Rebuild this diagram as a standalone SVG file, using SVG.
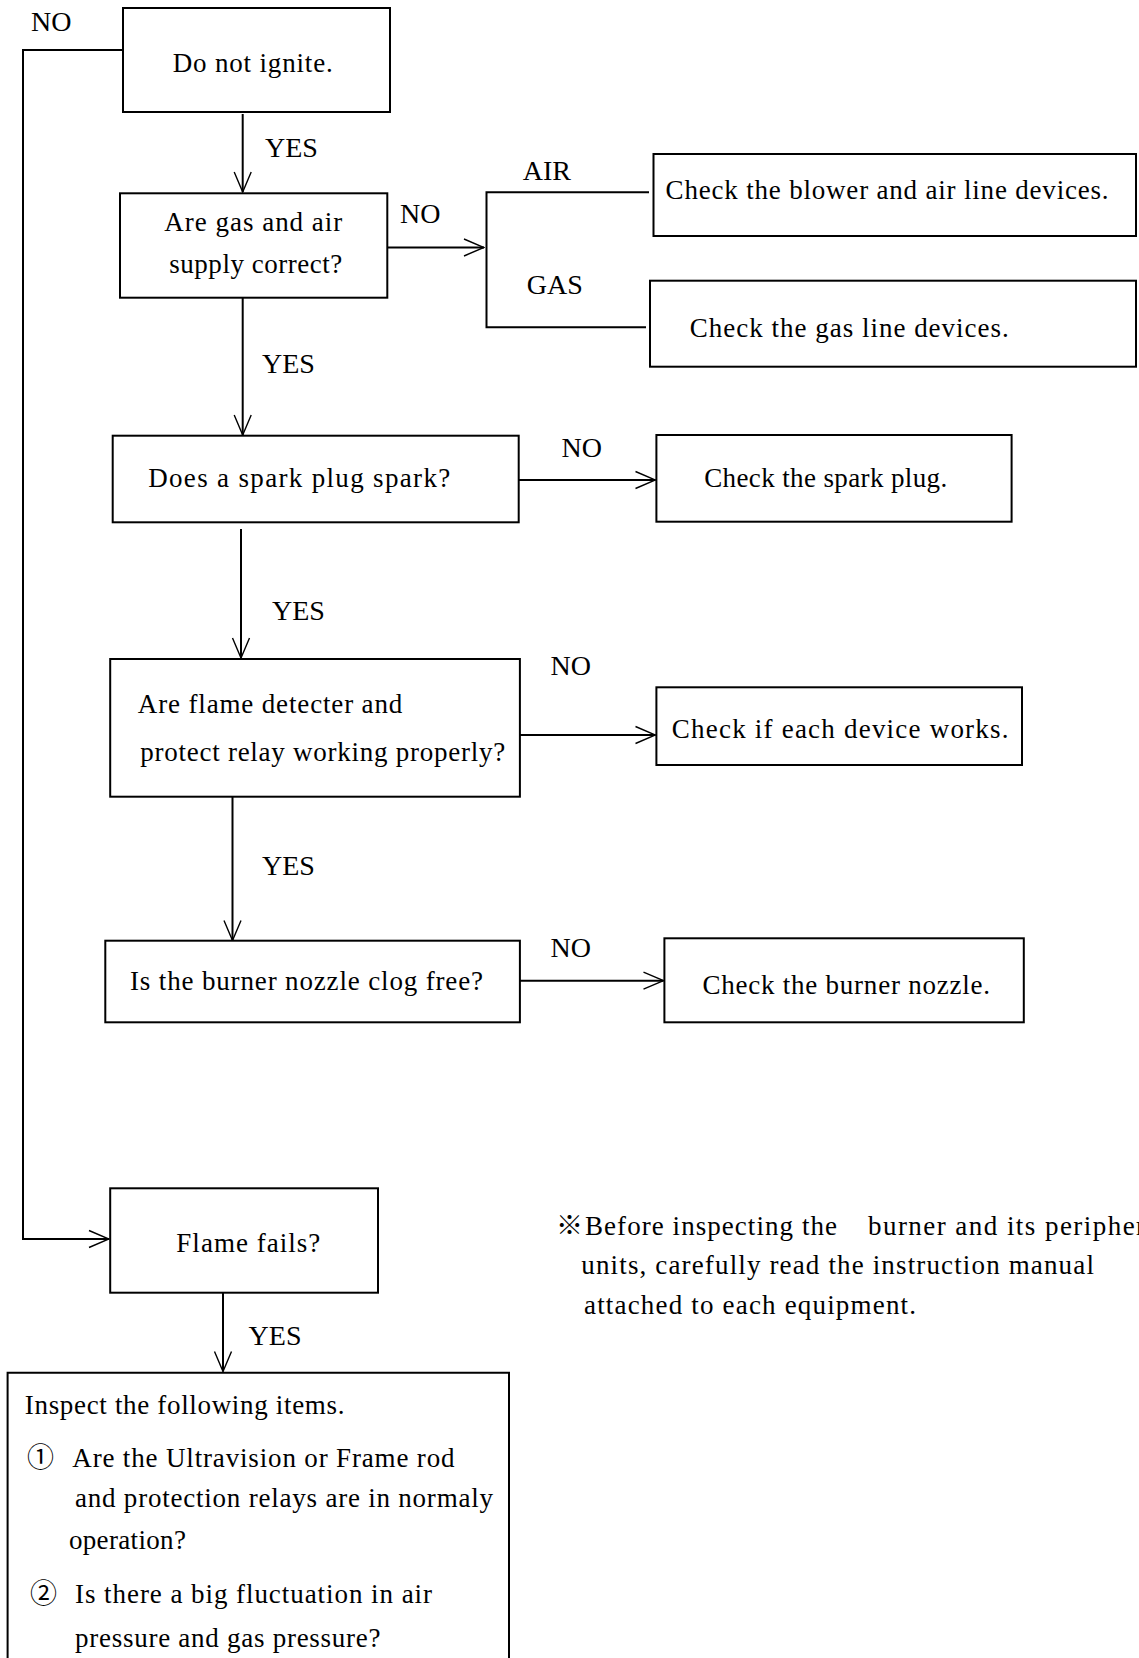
<svg xmlns="http://www.w3.org/2000/svg" width="1139" height="1658" viewBox="0 0 1139 1658">
<style>
.box{fill:#fff;stroke:#000;stroke-width:2}
.ln{fill:none;stroke:#000;stroke-width:2}
text{font-family:"Liberation Serif","Times New Roman","Noto Sans CJK JP",serif;fill:#000}
.t{font-size:27px}
.lb{font-size:28px}
.cjk{font-family:"Noto Sans CJK JP","Liberation Serif",serif}
</style>
<defs>
<marker id="ah" viewBox="0 0 22 20" refX="21" refY="10" markerWidth="22" markerHeight="20" markerUnits="userSpaceOnUse" orient="auto">
<path d="M1,1.5 L21,10 L1,18.5" fill="none" stroke="#000" stroke-width="1.4"/>
</marker>
</defs>
<rect width="1139" height="1658" fill="#fff"/>
<g id="connectors">
<polyline class="ln" points="123,50 23,50 23,1239 109,1239" marker-end="url(#ah)"/>
<line class="ln" x1="242.7" y1="114" x2="242.7" y2="192" marker-end="url(#ah)"/>
<line class="ln" x1="387" y1="247.5" x2="484" y2="247.5" marker-end="url(#ah)"/>
<polyline class="ln" points="649,192.3 486.5,192.3 486.5,327.3 646,327.3"/>
<line class="ln" x1="242.7" y1="297.7" x2="242.7" y2="435" marker-end="url(#ah)"/>
<line class="ln" x1="518.6" y1="480" x2="655.5" y2="480" marker-end="url(#ah)"/>
<line class="ln" x1="241" y1="529" x2="241" y2="658" marker-end="url(#ah)"/>
<line class="ln" x1="520" y1="735" x2="655.5" y2="735" marker-end="url(#ah)"/>
<line class="ln" x1="232.5" y1="796.7" x2="232.5" y2="940.5" marker-end="url(#ah)"/>
<line class="ln" x1="520" y1="980.7" x2="663.5" y2="980.7" marker-end="url(#ah)"/>
<line class="ln" x1="223" y1="1292.7" x2="223" y2="1371.5" marker-end="url(#ah)"/>
<text class="lb" x="31" y="30.7">NO</text>
<text class="lb" x="265" y="157">YES</text>
<text class="lb" x="400" y="222.7">NO</text>
<text class="lb" x="522.8" y="180">AIR</text>
<text class="lb" x="526.7" y="294">GAS</text>
<text class="lb" x="262" y="373">YES</text>
<text class="lb" x="561.5" y="456.7">NO</text>
<text class="lb" x="272" y="620">YES</text>
<text class="lb" x="550.5" y="675">NO</text>
<text class="lb" x="262" y="875">YES</text>
<text class="lb" x="550.5" y="956.7">NO</text>
<text class="lb" x="248.6" y="1345">YES</text>
</g>
<g id="n-do-not-ignite">
<rect class="box" x="123" y="8" width="267" height="104"/>
<text class="t" x="172.7" y="72" textLength="160">Do not ignite.</text>
</g>
<g id="n-gas-air">
<rect class="box" x="120" y="193.3" width="267.3" height="104.4"/>
<text class="t" x="164.3" y="230.7" textLength="178">Are gas and air</text>
<text class="t" x="169.3" y="272.5" textLength="173">supply correct?</text>
</g>
<g id="n-check-air">
<rect class="box" x="653.5" y="154" width="482.5" height="82"/>
<text class="t" x="665.6" y="199.3" textLength="443">Check the blower and air line devices.</text>
</g>
<g id="n-check-gas">
<rect class="box" x="650" y="280.7" width="486" height="86"/>
<text class="t" x="689.8" y="337.3" textLength="319">Check the gas line devices.</text>
</g>
<g id="n-spark">
<rect class="box" x="112.7" y="435.7" width="406" height="86.6"/>
<text class="t" x="148.2" y="487" textLength="302">Does a spark plug spark?</text>
</g>
<g id="n-check-spark">
<rect class="box" x="656.4" y="435" width="355.2" height="86.7"/>
<text class="t" x="704.2" y="487" textLength="243">Check the spark plug.</text>
</g>
<g id="n-flame-detector">
<rect class="box" x="110.2" y="659" width="409.7" height="137.7"/>
<text class="t" x="137.8" y="712.7" textLength="264.5">Are flame detecter and</text>
<text class="t" x="140.2" y="761" textLength="365">protect relay working properly?</text>
</g>
<g id="n-check-device">
<rect class="box" x="656.4" y="687.3" width="365.6" height="77.7"/>
<text class="t" x="671.8" y="738.3" textLength="336.7">Check if each device works.</text>
</g>
<g id="n-nozzle">
<rect class="box" x="105.3" y="940.7" width="414.6" height="81.6"/>
<text class="t" x="130" y="989.5" textLength="353">Is the burner nozzle clog free?</text>
</g>
<g id="n-check-nozzle">
<rect class="box" x="664.4" y="938.3" width="359.4" height="84"/>
<text class="t" x="702.4" y="993.5" textLength="287.6">Check the burner nozzle.</text>
</g>
<g id="n-flame-fails">
<rect class="box" x="110.2" y="1188.3" width="267.8" height="104.4"/>
<text class="t" x="176.3" y="1251.7" textLength="144">Flame fails?</text>
</g>
<g id="n-inspect">
<path class="ln" d="M7.6,1658 V1372.7 H509 V1658" fill="#fff"/>
<text class="t" x="24.8" y="1414" textLength="319.6">Inspect the following items.</text>
<text class="t cjk" x="27" y="1466.7">①</text>
<text class="t" x="72.3" y="1466.7" textLength="382.2">Are the Ultravision or Frame rod</text>
<text class="t" x="75" y="1507.3" textLength="418">and protection relays are in normaly</text>
<text class="t" x="68.9" y="1548.5" textLength="117">operation?</text>
<text class="t cjk" x="30" y="1603.3">②</text>
<text class="t" x="75" y="1603.3" textLength="357">Is there a big fluctuation in air</text>
<text class="t" x="75" y="1646.7" textLength="305.5">pressure and gas pressure?</text>
</g>
<g id="note">
<text class="t cjk" x="556" y="1235">※</text>
<text class="t" x="585" y="1235" textLength="252">Before inspecting the</text>
<text class="t" x="868" y="1235" letter-spacing="1.45">burner and its peripheral</text>
<text class="t" x="581.3" y="1274" textLength="512.6">units, carefully read the instruction manual</text>
<text class="t" x="584" y="1314" textLength="332">attached to each equipment.</text>
</g>
</svg>
